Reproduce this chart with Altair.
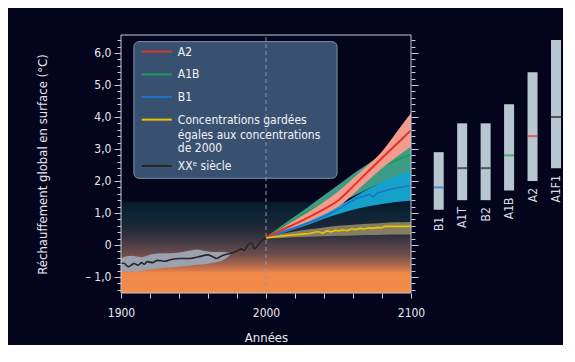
import altair as alt
import pandas as pd

# ---------------- data ----------------
proj_years = [2000, 2010, 2020, 2030, 2040, 2050, 2060, 2070, 2080, 2090, 2100]
a2_mean = [0.23, 0.45, 0.66, 0.88, 1.12, 1.40, 1.83, 2.28, 2.72, 3.15, 3.58]
a2_hi = [0.23, 0.50, 0.78, 1.05, 1.35, 1.68, 2.08, 2.48, 2.92, 3.52, 4.12]
a2_lo = [0.23, 0.42, 0.58, 0.75, 0.95, 1.20, 1.58, 2.00, 2.40, 2.75, 3.08]
a1b_mean = [0.23, 0.50, 0.78, 1.05, 1.32, 1.62, 1.92, 2.20, 2.45, 2.65, 2.83]
a1b_hi = [0.23, 0.58, 0.90, 1.22, 1.55, 1.88, 2.22, 2.52, 2.80, 2.97, 3.10]
a1b_lo = [0.23, 0.40, 0.60, 0.82, 1.05, 1.30, 1.52, 1.75, 1.95, 2.12, 2.25]
b1_hi = [0.23, 0.42, 0.62, 0.80, 1.00, 1.22, 1.47, 1.74, 1.97, 2.16, 2.30]
b1_lo = [0.23, 0.35, 0.50, 0.65, 0.82, 0.97, 1.10, 1.20, 1.28, 1.34, 1.38]
const_hi = [0.23, 0.34, 0.42, 0.49, 0.55, 0.60, 0.63, 0.66, 0.69, 0.71, 0.72]
const_lo = [0.20, 0.22, 0.24, 0.26, 0.27, 0.29, 0.30, 0.31, 0.32, 0.33, 0.33]

b1_line_years = [2000, 2010, 2020, 2030, 2040, 2046, 2050, 2053, 2056, 2060, 2063,
                 2066, 2068, 2071, 2074, 2077, 2080, 2086, 2090, 2095, 2100]
b1_line_vals = [0.23, 0.38, 0.54, 0.70, 0.88, 1.02, 1.12, 1.20, 1.30, 1.38, 1.47,
                1.50, 1.53, 1.58, 1.50, 1.63, 1.66, 1.74, 1.78, 1.82, 1.86]

const_line_years = [2000, 2005, 2010, 2015, 2020, 2025, 2030, 2033, 2036, 2039, 2042,
                    2045, 2048, 2050, 2053, 2056, 2059, 2062, 2065, 2068, 2071, 2074,
                    2077, 2080, 2082, 2090, 2100]
const_line_vals = [0.22, 0.25, 0.28, 0.30, 0.32, 0.34, 0.36, 0.39, 0.42, 0.36, 0.44,
                   0.41, 0.46, 0.44, 0.47, 0.45, 0.50, 0.48, 0.52, 0.50, 0.54, 0.52,
                   0.55, 0.54, 0.58, 0.58, 0.58]

hist_years = [1900, 1902, 1905, 1907, 1909, 1912, 1914, 1916, 1918, 1922, 1925, 1930,
              1934, 1941, 1948, 1953, 1960, 1963, 1966, 1968, 1971, 1976, 1980, 1983,
              1985, 1987, 1990, 1992, 1994, 1997, 2000]
hist_vals = [-0.58, -0.57, -0.68, -0.63, -0.58, -0.63, -0.55, -0.60, -0.52, -0.55, -0.48,
             -0.51, -0.46, -0.42, -0.42, -0.375, -0.31, -0.36, -0.42, -0.375, -0.31,
             -0.26, -0.19, -0.12, -0.17, -0.03, 0.07, -0.12, -0.03, 0.125, 0.23]
hist_band_years = [1900, 1907, 1914, 1921, 1930, 1939, 1948, 1953, 1958, 1964, 1969, 1973, 1976]
hist_band_hi = [-0.42, -0.34, -0.38, -0.29, -0.26, -0.24, -0.17, -0.14, -0.19, -0.22, -0.22, -0.23, -0.26]
hist_band_lo = [-0.81, -0.83, -0.81, -0.76, -0.71, -0.68, -0.64, -0.62, -0.60, -0.55, -0.50, -0.40, -0.28]

scenarios = ["B1", "A1T", "B2", "A1B", "A2", "A1F1"]
scen_lo = [1.1, 1.4, 1.4, 1.7, 2.0, 2.4]
scen_hi = [2.9, 3.8, 3.8, 4.4, 5.4, 6.4]
scen_best = [1.8, 2.4, 2.4, 2.8, 3.4, 4.0]

legend_labels = ["A2", "A1B", "B1", "Concentrations gardées",
                 "égales aux concentrations", "de 2000", "XXᵉ siècle"]

# ---------------- styles / layout ----------------
BG = "#04051c"
FONT = "DejaVu Sans Condensed"
TXT = "#e6e9ee"
AXC = "#c9ced6"
RED, GREEN, BLUE, YEL, BLK = "#e2312b", "#1b9b55", "#1f72cc", "#f2c200", "#262626"
best_colors = [BLUE, BLK, BLK, GREEN, RED, BLK]

YMIN, YMAX = -1.5, 6.56
X0, X1 = 1900, 2100
W, H = 290, 258

xscale = alt.Scale(domain=[X0, X1], nice=False, zero=False)
yscale = alt.Scale(domain=[YMIN, YMAX], nice=False, zero=False)

xaxis = alt.Axis(values=list(range(1900, 2101, 20)),
                 labelExpr="datum.value % 100 == 0 ? format(datum.value, 'd') : ''",
                 tickSize=5, labelPadding=9, title="Années", titlePadding=13,
                 grid=False, domain=False, labelOverlap=False, labelFlush=False,
                 tickColor=AXC, labelColor=TXT, titleColor=TXT,
                 labelFontSize=12, titleFontSize=13, titleFontWeight="normal")

ylab = ("datum.value == 0 ? '0' : (datum.value < 0 ? '– ' : '') + "
        "replace(format(abs(datum.value), '.1f'), '.', ',')")
major_vals = [-1, 0, 1, 2, 3, 4, 5, 6]
minor_vals = [round(-1.4 + 0.2 * i, 1) for i in range(40)]
minor_vals = [v for v in minor_vals if abs(v - round(v)) > 1e-6 and v <= 6.5]

y_left_major = alt.Axis(orient="left", values=major_vals, tickSize=7, labelPadding=3,
                        labelExpr=ylab, grid=False, domain=False,
                        title="Réchauffement global en surface (°C)", titlePadding=36,
                        tickColor=AXC, labelColor=TXT, titleColor=TXT,
                        labelFontSize=12, titleFontSize=13, titleFontWeight="normal")
y_left_minor = alt.Axis(orient="left", values=minor_vals, tickSize=4, labels=False,
                        grid=False, domain=False, title=None, tickColor=AXC)
y_right_major = alt.Axis(orient="right", values=major_vals, tickSize=7, labels=False,
                         grid=False, domain=False, title=None, tickColor=AXC)
y_right_minor = alt.Axis(orient="right", values=minor_vals, tickSize=4, labels=False,
                         grid=False, domain=False, title=None, tickColor=AXC)


def band_df(years, lo, hi):
    return pd.DataFrame({"year": years, "lo": lo, "hi": hi})


def line_df(years, vals):
    return pd.DataFrame({"year": years, "v": vals})


def X(field="year"):
    return alt.X(f"{field}:Q", scale=xscale, axis=xaxis)


# background gradient
bg_df = pd.DataFrame({"x0": [X0], "x1": [X1], "y0": [YMIN], "y1": [YMAX]})
grad = alt.LinearGradient(
    gradient="linear", x1=0, y1=0, x2=0, y2=1,
    stops=[
        alt.GradientStop(offset=0.0, color=BG),
        alt.GradientStop(offset=0.642, color=BG),
        alt.GradientStop(offset=0.650, color="#08192c"),
        alt.GradientStop(offset=0.690, color="#0b2536"),
        alt.GradientStop(offset=0.740, color="#1c2636"),
        alt.GradientStop(offset=0.789, color="#3a3442"),
        alt.GradientStop(offset=0.814, color="#4e4048"),
        alt.GradientStop(offset=0.851, color="#6e4e4a"),
        alt.GradientStop(offset=0.888, color="#a8654c"),
        alt.GradientStop(offset=0.912, color="#d87a4a"),
        alt.GradientStop(offset=0.922, color="#f08849"),
        alt.GradientStop(offset=1.0, color="#f48c48"),
    ])
background = alt.Chart(bg_df).mark_rect(color=grad).encode(
    x=X("x0"), x2="x1",
    y=alt.Y("y0:Q", scale=yscale, axis=y_left_major), y2="y1")

frame = alt.Chart(bg_df).mark_rect(
    fill="transparent", stroke="#c3c8d1", strokeWidth=1
).encode(x=X("x0"), x2="x1", y=alt.Y("y0:Q", scale=yscale, axis=None), y2="y1")

# legend box (in data units)
leg_box = pd.DataFrame({"x0": [1908.9], "x1": [2049.0], "y0": [2.084], "y1": [6.353]})
legend_box = alt.Chart(leg_box).mark_rect(
    fill="#3b5473", stroke="#8596ad", strokeWidth=1, cornerRadius=5, opacity=0.97
).encode(x=X("x0"), x2="x1", y=alt.Y("y0:Q", scale=yscale, axis=None), y2="y1")

leg_sym = pd.DataFrame({
    "x0": [1914.3] * 5, "x1": [1935.0] * 5,
    "y": [6.04, 5.33, 4.625, 3.916, 2.47],
    "c": [RED, GREEN, BLUE, YEL, BLK]})
legend_sym = alt.Chart(leg_sym).mark_rule(strokeWidth=2).encode(
    x=X("x0"), x2="x1", y=alt.Y("y:Q", scale=yscale, axis=None),
    color=alt.Color("c:N", scale=None))

leg_txt = pd.DataFrame({
    "x": [1939.2] * 7, "y": [6.04, 5.33, 4.625, 3.916, 3.4375, 3.02, 2.47],
    "t": legend_labels})
legend_txt = alt.Chart(leg_txt).mark_text(
    align="left", baseline="middle", fontSize=12, font=FONT, color="#f2f4f7"
).encode(x=X("x"), y=alt.Y("y:Q", scale=yscale, axis=None), text="t:N")

dash_df = pd.DataFrame({"x": [2000], "y0": [YMIN], "y1": [YMAX]})
dashed = alt.Chart(dash_df).mark_rule(color="#8f95a2", strokeDash=[4, 3], strokeWidth=1).encode(
    x=X("x"), y=alt.Y("y0:Q", scale=yscale, axis=None), y2="y1")


def area(df, color, opacity=1.0, axis=None):
    return alt.Chart(df).mark_area(color=color, opacity=opacity, interpolate="monotone").encode(
        x=X(), y=alt.Y("lo:Q", scale=yscale, axis=axis), y2="hi")


def line(df, color, width, axis=None, interp="monotone"):
    return alt.Chart(df).mark_line(color=color, strokeWidth=width, interpolate=interp).encode(
        x=X(), y=alt.Y("v:Q", scale=yscale, axis=axis))


hist_band = area(band_df(hist_band_years, hist_band_lo, hist_band_hi), "#9ba1af", axis=y_left_minor)
hist_line = line(line_df(hist_years, hist_vals), BLK, 1.6, axis=y_right_major)

green_band = area(band_df(proj_years, a1b_lo, a1b_hi), "#3d9c85")
green_line = line(line_df(proj_years, a1b_mean), GREEN, 2)
blue_band = area(band_df(proj_years, b1_lo, b1_hi), "#15a1c9")
blue_line = line(line_df(b1_line_years, b1_line_vals), BLUE, 1.6, interp="linear")
red_band = area(band_df(proj_years, a2_lo, a2_hi), "#f39c8e")
red_line = line(line_df(proj_years, a2_mean), RED, 2)
yel_band = area(band_df(proj_years, const_lo, const_hi), "#8d8a66", opacity=0.9)
yel_line = line(line_df(const_line_years, const_line_vals), YEL, 1.6,
                axis=y_right_minor, interp="linear")

main = alt.layer(
    background, legend_box, dashed, legend_sym, legend_txt,
    hist_band, hist_line,
    green_band, green_line, blue_band, blue_line, red_band, red_line,
    yel_band, yel_line, frame,
).resolve_axis(y="independent").properties(
    width=W, height=H,
    view=alt.ViewBackground(stroke="transparent"))

# ---------------- scenario bars ----------------
sc_df = pd.DataFrame({"s": scenarios, "lo": scen_lo, "hi": scen_hi,
                      "best": scen_best, "bc": best_colors})
bx = alt.X("s:N", sort=scenarios, axis=None,
           scale=alt.Scale(paddingInner=0.573, paddingOuter=0.143, align=1))
bars = alt.Chart(sc_df).mark_bar(color="#b8c6d1").encode(
    x=bx, y=alt.Y("lo:Q", scale=yscale, axis=None), y2="hi")
best = alt.Chart(sc_df).mark_tick(thickness=2, size=10).encode(
    x=bx, y=alt.Y("best:Q", scale=yscale, axis=None),
    color=alt.Color("bc:N", scale=None))
labels = alt.Chart(sc_df).mark_text(
    angle=270, align="right", baseline="middle", dx=-7, fontSize=12, font=FONT,
    color="#d7dce3").encode(
    x=bx, y=alt.Y("lo:Q", scale=yscale, axis=None), text="s:N")
panel = alt.layer(bars, best, labels).properties(
    width=134, height=H, view=alt.ViewBackground(stroke="transparent"))

chart = alt.hconcat(main, panel, spacing=0).resolve_scale(
    x="independent", y="independent"
).properties(
    background=BG,
    padding={"left": 27, "top": 26, "right": 0, "bottom": 0},
).configure_view(stroke=None).configure(font=FONT)

chart.save("out.html", embed_options={"renderer": "svg", "actions": False})
